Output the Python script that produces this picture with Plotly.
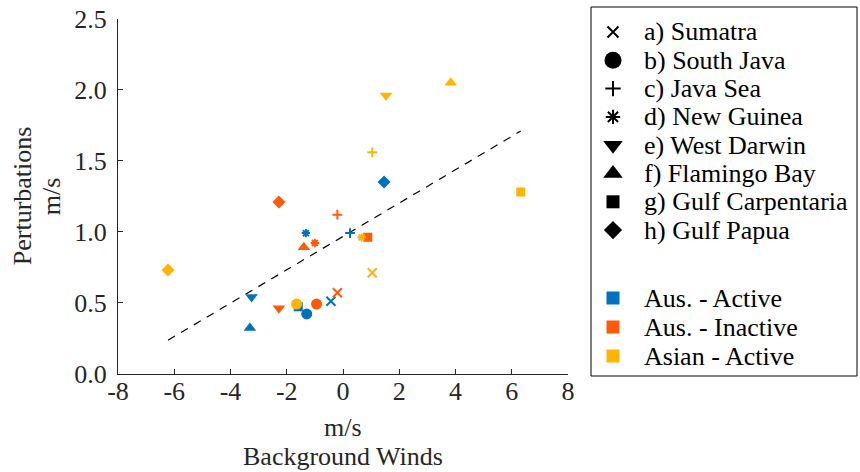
import plotly.graph_objects as go

regions = ["a) Sumatra", "b) South Java", "c) Java Sea", "d) New Guinea",
           "e) West Darwin", "f) Flamingo Bay", "g) Gulf Carpentaria", "h) Gulf Papua"]
symbols = ["x-thin-open", "circle", "cross-thin-open", "asterisk-open",
           "triangle-down", "triangle-up", "square", "diamond"]
data_sizes = [9, 11, 7, 7, 11, 11, 9, 10]
legend_sizes = [11, 17, 11, 12, 17, 17, 13, 14]

groups = ["Aus. - Active", "Aus. - Inactive", "Asian - Active"]
colors = ["#0072BD", "#FF5A0A", "#FFB400"]

# background winds (x) and perturbations (y), per group, in region order
aus_active_x = [-0.43, -1.29, 0.25, -1.32, -3.25, -3.31, -1.59, 1.46]
aus_active_y = [0.51, 0.42, 0.99, 0.99, 0.54, 0.32, 0.47, 1.35]
aus_inactive_x = [-0.20, -0.94, -0.20, -1.00, -2.28, -1.39, 0.88, -2.28]
aus_inactive_y = [0.57, 0.49, 1.12, 0.92, 0.46, 0.89, 0.96, 1.21]
asian_active_x = [1.04, -1.65, 1.04, 0.66, 1.53, 3.83, 6.32, -6.22]
asian_active_y = [0.71, 0.49, 1.56, 0.96, 1.96, 2.05, 1.28, 0.73]

fit_x = [-6.22, 6.32]
fit_y = [0.235, 1.71]

xticks = [-8, -6, -4, -2, 0, 2, 4, 6, 8]
yticks = [0.0, 0.5, 1.0, 1.5, 2.0, 2.5]

FONT = "Liberation Serif, Times New Roman, serif"
AXC = "#262626"
W, H = 860, 472

# plot area and legend box, in pixels
PL, PR, PT, PB = 118, 568, 19, 373.5
LL, LR, LT, LBOT = 591, 857, 7, 376


def xp(px):
    return px / W


def yp(py):
    return 1 - py / H


fig = go.Figure()

fig.add_trace(go.Scatter(x=fit_x, y=fit_y, mode="lines",
                         line=dict(color="black", width=1.2, dash="8px,7px"),
                         showlegend=False, hoverinfo="skip"))

series = [(aus_active_x, aus_active_y), (aus_inactive_x, aus_inactive_y),
          (asian_active_x, asian_active_y)]
for gi, (xs, ys) in enumerate(series):
    for ri in range(len(regions)):
        sym = symbols[ri]
        open_sym = sym.endswith("open")
        fig.add_trace(go.Scatter(
            x=[xs[ri]], y=[ys[ri]], mode="markers",
            marker=dict(symbol=sym, size=data_sizes[ri], color=colors[gi], opacity=1,
                        line=dict(color=colors[gi], width=2 if open_sym else 0)),
            showlegend=False, name=f"{regions[ri]} {groups[gi]}"))

# ---- legend (drawn on its own pixel-unit axes) ----
row0, row_step = 25, 28.3
grp0, grp_step = 291, 29
sym_x, text_x = 22, 51
shape_rows = [row0 + i * row_step for i in range(len(regions))]
color_rows = [grp0 + i * grp_step for i in range(len(groups))]

for ri, sym in enumerate(symbols):
    open_sym = sym.endswith("open")
    fig.add_trace(go.Scatter(
        x=[sym_x], y=[shape_rows[ri]], xaxis="x2", yaxis="y2", mode="markers",
        marker=dict(symbol=sym, size=legend_sizes[ri], color="#000000", opacity=1,
                    line=dict(color="#000000", width=2 if open_sym else 0)),
        showlegend=False, hoverinfo="skip"))
for gi in range(len(groups)):
    fig.add_trace(go.Scatter(
        x=[sym_x], y=[color_rows[gi]], xaxis="x2", yaxis="y2", mode="markers",
        marker=dict(symbol="square", size=13, color=colors[gi], opacity=1, line=dict(width=0)),
        showlegend=False, hoverinfo="skip"))

annotations = []
for name, yy in zip(regions + groups, shape_rows + color_rows):
    annotations.append(dict(x=text_x, y=yy, xref="x2", yref="y2", text=name,
                            showarrow=False, xanchor="left", yanchor="middle",
                            font=dict(family=FONT, size=26, color="black")))

# axis titles
title_font = dict(family=FONT, size=26, color=AXC)
annotations += [
    dict(x=xp((PL + PR) / 2), y=yp(427), xref="paper", yref="paper", text="m/s",
         showarrow=False, xanchor="center", yanchor="middle", font=title_font),
    dict(x=xp((PL + PR) / 2), y=yp(456), xref="paper", yref="paper", text="Background Winds",
         showarrow=False, xanchor="center", yanchor="middle", font=title_font),
    dict(x=xp(22), y=yp((PT + PB) / 2), xref="paper", yref="paper", text="Perturbations",
         showarrow=False, xanchor="center", yanchor="middle", textangle=-90, font=title_font),
    dict(x=xp(51), y=yp((PT + PB) / 2), xref="paper", yref="paper", text="m/s",
         showarrow=False, xanchor="center", yanchor="middle", textangle=-90, font=title_font),
]

tick_font = dict(family=FONT, size=26, color=AXC)
fig.update_layout(
    width=W, height=H,
    margin=dict(l=0, r=0, t=0, b=0),
    paper_bgcolor="white", plot_bgcolor="white",
    font=dict(family=FONT, size=26, color=AXC),
    showlegend=False,
    xaxis=dict(domain=[xp(PL), xp(PR)], range=[-8, 8], tickvals=xticks,
               ticktext=[str(v) for v in xticks],
               showgrid=False, zeroline=False, showline=True, linecolor=AXC,
               linewidth=1, ticks="inside", ticklen=5, tickcolor=AXC,
               ticklabelstandoff=-6,
               automargin=False, tickfont=tick_font),
    yaxis=dict(domain=[yp(PB), yp(PT)], range=[0, 2.5], tickvals=yticks,
               ticktext=[f"{v:.1f}" for v in yticks],
               showgrid=False, zeroline=False, showline=True, linecolor=AXC,
               linewidth=1, ticks="inside", ticklen=5, tickcolor=AXC,
               ticklabelstandoff=5,
               automargin=False, tickfont=tick_font),
    xaxis2=dict(domain=[xp(LL), xp(LR)], range=[0, LR - LL], anchor="y2",
                visible=False, fixedrange=True),
    yaxis2=dict(domain=[yp(LBOT), yp(LT)], range=[LBOT - LT, 0], anchor="x2",
                visible=False, fixedrange=True),
    shapes=[dict(type="rect", xref="paper", yref="paper",
                 x0=xp(LL), x1=xp(LR), y0=yp(LBOT), y1=yp(LT),
                 line=dict(color="black", width=1), fillcolor="rgba(0,0,0,0)", layer="below")],
    annotations=annotations,
)

fig.write_html("out.html")
